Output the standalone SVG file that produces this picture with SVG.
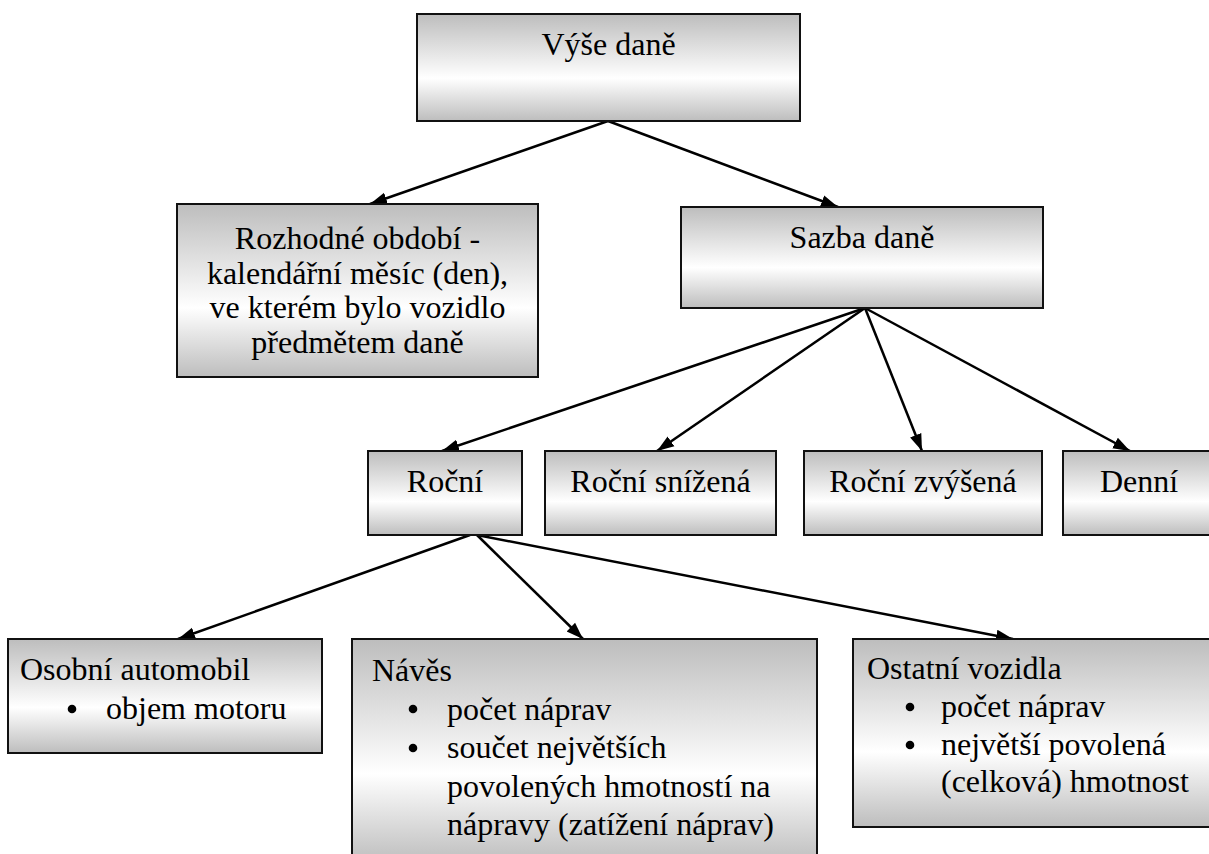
<svg xmlns="http://www.w3.org/2000/svg" width="1209" height="854" viewBox="0 0 1209 854">
<defs>
<linearGradient id="g" x1="0" y1="0" x2="0" y2="1">
<stop offset="0" stop-color="#bdbdbd"/>
<stop offset="0.6" stop-color="#ffffff"/>
<stop offset="1" stop-color="#bdbdbd"/>
</linearGradient>
<marker id="ah" markerUnits="userSpaceOnUse" markerWidth="18" markerHeight="14" viewBox="0 0 18 14" refX="17" refY="7" orient="auto">
<path d="M0,1 L17,7 L0,13 Z" fill="#000"/>
</marker>
</defs>
<style>
.box{fill:url(#g);stroke:#111;stroke-width:2}
.e{stroke:#000;stroke-width:2.5;fill:none;marker-end:url(#ah)}
</style>
<rect width="1209" height="854" fill="#fff"/>
<g id="connectors">
<line class="e" x1="608" y1="121" x2="370" y2="204"/>
<line class="e" x1="608" y1="121" x2="838" y2="207"/>
<line class="e" x1="865" y1="308" x2="442" y2="451"/>
<line class="e" x1="865" y1="308" x2="657" y2="451"/>
<line class="e" x1="865" y1="308" x2="922" y2="451"/>
<line class="e" x1="865" y1="308" x2="1130" y2="451"/>
<line class="e" x1="470" y1="535" x2="178" y2="639"/>
<line class="e" x1="477" y1="535" x2="583" y2="639"/>
<line class="e" x1="477" y1="535" x2="1013" y2="639"/>
</g>
<g font-family="Liberation Serif" font-size="32" fill="#000">
<g id="vyse-dane">
<rect class="box" x="417" y="14" width="383" height="107"/>
<text x="608.5" y="55" text-anchor="middle">Výše daně</text>
</g>
<g id="rozhodne-obdobi">
<rect class="box" x="177" y="204" width="361" height="173"/>
<text x="357.5" y="249" text-anchor="middle">Rozhodné období -</text>
<text x="357.5" y="284" text-anchor="middle">kalendářní měsíc (den),</text>
<text x="357.5" y="318" text-anchor="middle">ve kterém bylo vozidlo</text>
<text x="357.5" y="353" text-anchor="middle">předmětem daně</text>
</g>
<g id="sazba-dane">
<rect class="box" x="681" y="207" width="362" height="101"/>
<text x="862" y="248" text-anchor="middle">Sazba daně</text>
</g>
<g id="rocni">
<rect class="box" x="368" y="451" width="154" height="84"/>
<text x="445" y="492" text-anchor="middle">Roční</text>
</g>
<g id="rocni-snizena">
<rect class="box" x="545" y="451" width="231" height="84"/>
<text x="660.5" y="492" text-anchor="middle">Roční snížená</text>
</g>
<g id="rocni-zvysena">
<rect class="box" x="804" y="451" width="238" height="84"/>
<text x="923" y="492" text-anchor="middle">Roční zvýšená</text>
</g>
<g id="denni">
<rect class="box" x="1063" y="451" width="152" height="84"/>
<text x="1139" y="492" text-anchor="middle">Denní</text>
</g>
<g id="osobni-automobil">
<rect class="box" x="8" y="639" width="314" height="114"/>
<text x="20" y="680">Osobní automobil</text>
<circle cx="72" cy="709" r="4.3"/>
<text x="106" y="719">objem motoru</text>
</g>
<g id="naves">
<rect class="box" x="352" y="639" width="465" height="225"/>
<text x="372" y="681">Návěs</text>
<circle cx="413" cy="709" r="4.3"/>
<text x="447" y="719.5">počet náprav</text>
<circle cx="413" cy="748" r="4.3"/>
<text x="447" y="758">součet největších</text>
<text x="447" y="796.5">povolených hmotností na</text>
<text x="447" y="835">nápravy (zatížení náprav)</text>
</g>
<g id="ostatni-vozidla">
<rect class="box" x="853" y="639" width="362" height="188"/>
<text x="867" y="679">Ostatní vozidla</text>
<circle cx="910" cy="707" r="4.3"/>
<text x="941" y="717">počet náprav</text>
<circle cx="910" cy="745" r="4.3"/>
<text x="941" y="755">největší povolená</text>
<text x="941" y="792">(celková) hmotnost</text>
</g>
</g>
</svg>
